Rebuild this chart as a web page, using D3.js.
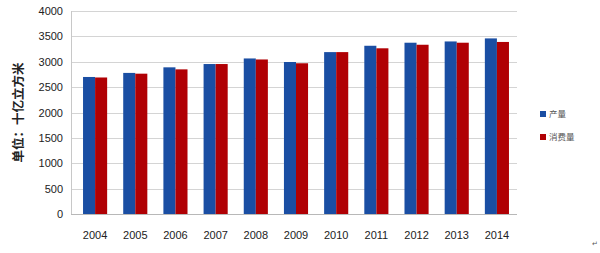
<!DOCTYPE html>
<html lang="zh">
<head>
<meta charset="UTF-8">
<title>产量与消费量</title>
<script src="https://cdn.jsdelivr.net/npm/d3@7"></script>
<style>
    body { margin: 0; background: #fff; }
    .tick text { font-family: "Liberation Sans", Arial, sans-serif; font-size: 11px; fill: #222; }
    .legend text { font-family: "Noto Sans CJK SC", sans-serif; font-size: 8.5px; fill: #555; }
</style>
</head>
<body>
<script>
    const years = ["2004","2005","2006","2007","2008","2009","2010","2011","2012","2013","2014"];
    const production = [2700, 2780, 2890, 2955, 3065, 2995, 3190, 3315, 3375, 3400, 3460];
    const consumption = [2690, 2765, 2850, 2955, 3045, 2970, 3190, 3265, 3335, 3375, 3390];
    const seriesNames = ["产量", "消费量"];
    const colors = ["#1a4ea3", "#b00004"];
    const yTicks = [0, 500, 1000, 1500, 2000, 2500, 3000, 3500, 4000];

    const width = 600, height = 253;
    const margin = {top: 11, left: 75, right: 83, bottom: 39};

    const svg = d3.select("body").append("svg")
        .attr("width", width).attr("height", height);

    const x = d3.scaleBand()
        .domain(years)
        .range([margin.left, width - margin.right])
        .paddingInner(0.4).paddingOuter(0.2);

    const x1 = d3.scaleBand()
        .domain(seriesNames)
        .range([0, x.bandwidth()]);

    const y = d3.scaleLinear()
        .domain([0, 4000])
        .range([height - margin.bottom, margin.top]);

    // grid lines
    svg.append("g")
        .selectAll("line")
        .data(yTicks)
        .join("line")
        .attr("x1", margin.left - 4).attr("x2", width - margin.right)
        .attr("y1", d => Math.round(y(d)) + 0.5).attr("y2", d => Math.round(y(d)) + 0.5)
        .attr("stroke", d => d === 0 ? "#b8b8b8" : "#d4d4d4")
        .attr("stroke-width", 1.2);

    svg.append("line")
        .attr("x1", margin.left - 3.5).attr("x2", margin.left - 3.5)
        .attr("y1", y(4000)).attr("y2", y(0))
        .attr("stroke", "#c8c8c8");

    const yAxis = svg.append("g")
        .attr("transform", `translate(${margin.left - 6},0)`)
        .call(d3.axisLeft(y).tickValues(yTicks).tickFormat(d3.format("d")).tickSize(0).tickPadding(6));
    yAxis.select(".domain").remove();

    const xAxis = svg.append("g")
        .attr("transform", `translate(0,${height - margin.bottom})`)
        .call(d3.axisBottom(x).tickSize(0).tickPadding(17));
    xAxis.select(".domain").remove();

    const rows = years.map((yr, i) => ({year: yr, values: [production[i], consumption[i]]}));

    svg.append("g")
        .selectAll("g")
        .data(rows)
        .join("g")
        .attr("transform", d => `translate(${x(d.year)},0)`)
        .selectAll("rect")
        .data(d => d.values.map((v, j) => ({name: seriesNames[j], value: v, c: colors[j]})))
        .join("rect")
        .attr("x", d => x1(d.name))
        .attr("width", x1.bandwidth())
        .attr("y", d => y(d.value))
        .attr("height", d => y(0) - y(d.value))
        .attr("fill", d => d.c);

    // y-axis title
    svg.append("text")
        .attr("transform", `translate(23,${(y(0) + y(4000)) / 2}) rotate(-90)`)
        .attr("text-anchor", "middle")
        .style("font-family", "'Noto Sans CJK SC', sans-serif")
        .style("font-size", "12.5px")
        .style("font-weight", "bold")
        .attr("fill", "#222")
        .text("单位：十亿立方米");

    // legend
    const legend = svg.append("g").attr("class", "legend")
        .selectAll("g")
        .data(seriesNames)
        .join("g")
        .attr("transform", (d, i) => `translate(540,${114 + i * 23})`);
    legend.append("rect")
        .attr("x", 0).attr("y", -3).attr("width", 6).attr("height", 6)
        .attr("fill", (d, i) => colors[i]);
    legend.append("text")
        .attr("x", 9).attr("y", 3)
        .text(d => d);

    svg.append("text")
        .attr("x", 592).attr("y", 246)
        .style("font-size", "7px").attr("fill", "#555")
        .text("↵");
</script>
</body>
</html>
